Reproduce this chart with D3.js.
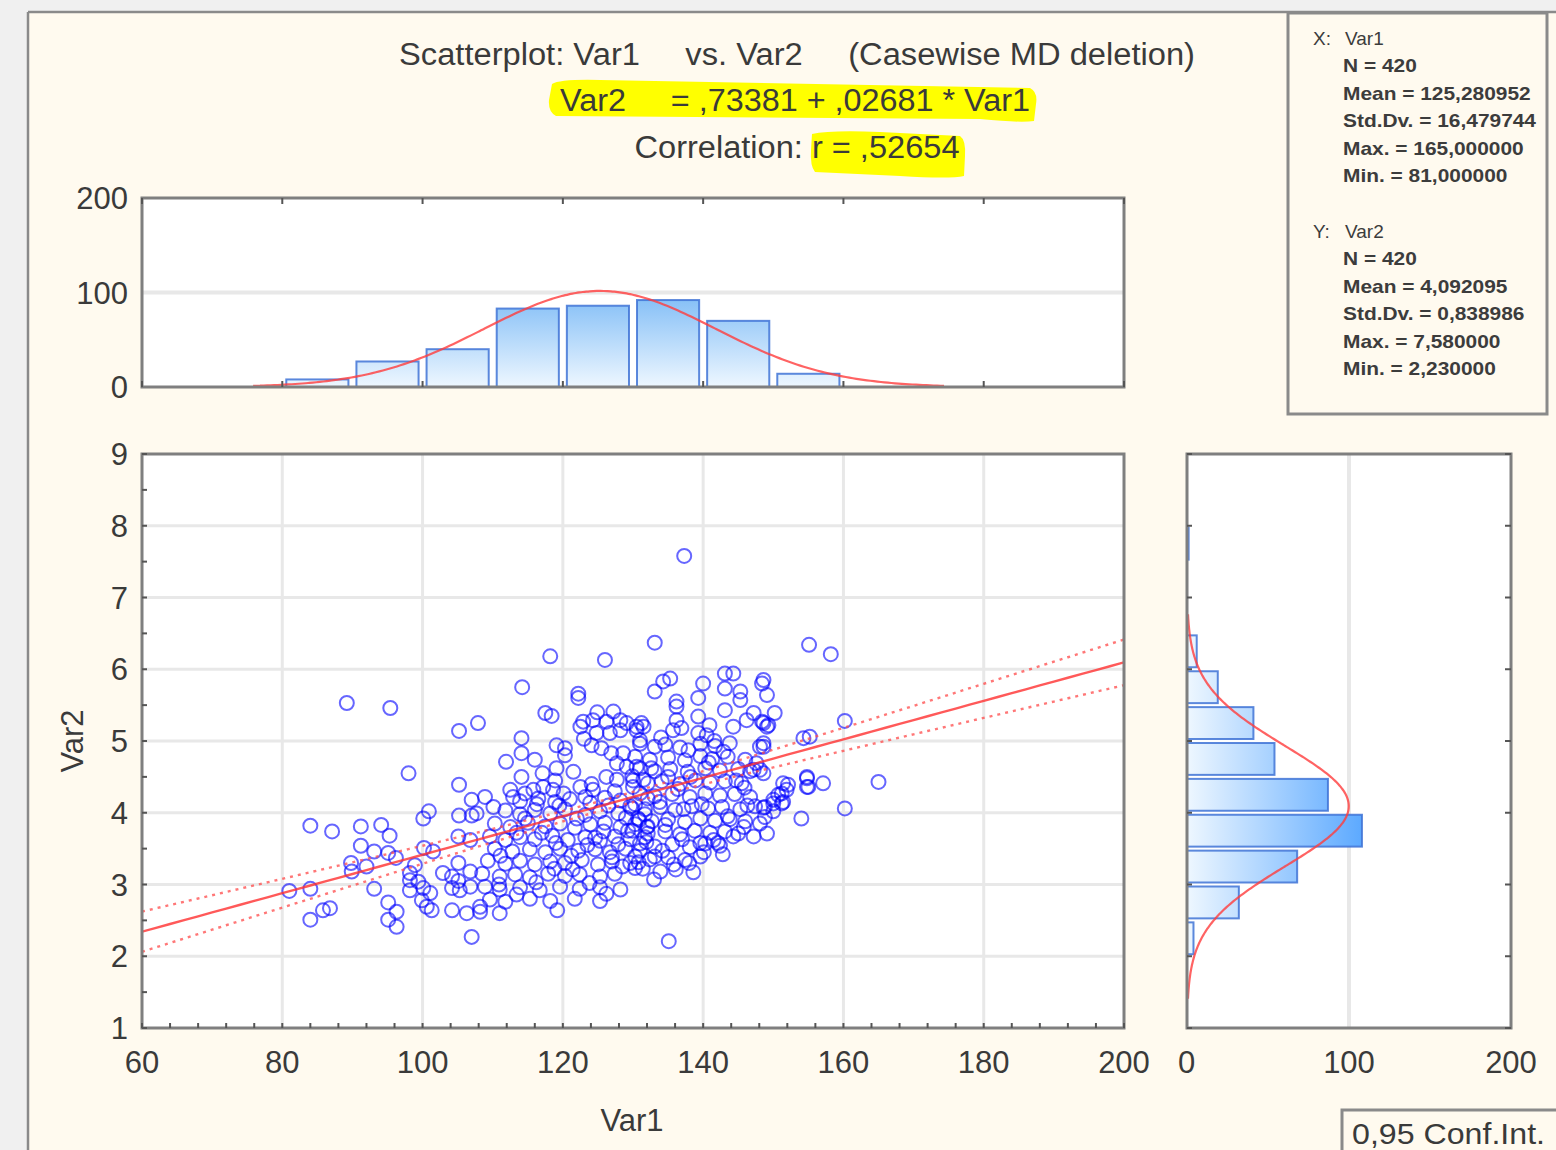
<!DOCTYPE html>
<html>
<head>
<meta charset="utf-8">
<script src="https://cdn.jsdelivr.net/npm/d3@7"></script>
<style>
  html, body { margin: 0; padding: 0; background: #f0f0f0; }
  svg { display: block; font-family: "Liberation Sans", Arial, sans-serif; }
</style>
</head>
<body>
<svg id="chart" width="1556" height="1150"></svg>
<script>
// ---- data ----
var titleLines = ["Scatterplot: Var1     vs. Var2     (Casewise MD deletion)",
                  "Var2     = ,73381 + ,02681 * Var1",
                  "Correlation: r = ,52654"];
var intercept = 0.73381, slope = 0.02681, r = 0.52654;

var statsX = ["N = 420", "Mean = 125,280952", "Std.Dv. = 16,479744", "Max. = 165,000000", "Min. = 81,000000"];
var statsY = ["N = 420", "Mean = 4,092095", "Std.Dv. = 0,838986", "Max. = 7,580000", "Min. = 2,230000"];
var nObs = 420, meanX = 125.280952, sdX = 16.479744, meanY = 4.092095, sdY = 0.838986;

var xTicks = [60, 80, 100, 120, 140, 160, 180, 200];
var yTicks = [1, 2, 3, 4, 5, 6, 7, 8, 9];
var histTicks = [0, 100, 200];

// Var1 histogram (bin start, width 10)
var var1Bins = [80, 90, 100, 110, 120, 130, 140, 150];
var var1Counts = [8, 27, 40, 83, 86, 92, 70, 14];
// Var2 histogram (bin start, width 0.5)
var var2Bins = [2.0, 2.5, 3.0, 3.5, 4.0, 4.5, 5.0, 5.5, 6.0, 7.5];
var var2Counts = [4, 32, 68, 108, 87, 54, 41, 19, 6, 1];

// scatter points [Var1, Var2]
var points = [
  [89.2,5.53],[95.4,5.46],[98.0,4.55],[84.0,3.82],[87.1,3.74],[91.2,3.81],[94.1,3.83],[95.3,3.68],
  [81.0,2.91],[84.0,2.94],[84.0,2.51],[86.8,2.67],[85.8,2.64],[107.0,2.27],[119.2,2.64],[135.1,2.21],
  [137.3,7.58],[133.1,6.37],[126.0,6.13],[118.2,6.18],[114.2,5.75],[105.2,5.14],[107.9,5.25],
  [155.1,6.34],[158.2,6.21],[160.2,5.28],[165.0,4.43],[160.2,4.06],[157.1,4.41],[154.3,5.04],
  [155.2,5.06],[154.0,3.92],[149.1,3.71],
  [105.2,4.39],[107.0,4.18],[105.2,3.96],[107.0,3.96],[100.9,4.02],[100.1,3.92],[91.2,3.54],[93.1,3.46],
  [95.1,3.44],[96.2,3.37],[89.8,3.30],[92.0,3.25],[89.9,3.18],[100.2,3.51],[101.5,3.46],[98.9,3.27],
  [98.2,3.16],[98.2,3.06],[99.4,3.04],[98.2,2.92],[100.1,2.95],[101.1,2.88],[99.9,2.78],[100.6,2.69],
  [101.3,2.64],[93.1,2.94],[95.1,2.75],[96.3,2.62],[95.1,2.51],[96.3,2.41],[102.9,3.16],[104.2,3.11],
  [104.2,2.95],[105.3,2.92],[104.2,2.64],[106.3,2.60],[105.1,3.67],[106.8,3.62],[105.1,3.30],[106.8,3.18],
  [105.1,3.05],[106.8,2.97],
  [122.2,5.66],[122.2,5.60],[117.5,5.39],[118.4,5.35],[122.9,5.27],[124.3,5.29],[126.2,5.27],[127.2,5.41],
  [128.2,5.29],[129.1,5.25],[130.5,5.20],[131.2,5.25],[122.5,5.20],[124.1,4.94],[124.8,5.11],[126.7,5.11],
  [128.2,5.15],[126.9,4.83],[128.6,4.83],[127.7,4.69],[129.1,4.64],[130.5,4.64],[114.1,5.04],[111.9,4.71],
  [114.1,4.83],[116.0,4.74],[114.1,4.50],[119.1,4.94],[120.3,4.90],[120.3,4.80],[119.1,4.62],[108.9,4.22],
  [110.1,4.08],[107.7,3.99],[108.2,2.69],[122.5,4.36],[124.3,4.32],[123.2,4.22],[126.2,4.50],[127.7,4.46],
  [130.0,4.36],[131.5,4.46],[118.6,4.32],[120.1,4.27],[117.2,4.36],[115.8,4.32],[112.5,4.32],[112.9,4.22],
  [114.6,4.27],[124.9,5.40],
  [113.9,4.16],[116.5,4.20],[118.9,4.15],[121.0,4.19],[123.9,4.14],[126.0,4.21],[128.2,4.17],[130.3,4.12],[132.1,4.20],
  [111.8,4.03],[113.9,3.98],[116.0,4.04],[118.2,3.99],[120.3,4.05],[123.2,3.97],[125.3,4.02],[127.9,3.99],[129.9,4.06],[131.7,3.98],
  [110.3,3.85],[112.5,3.80],[115.0,3.86],[117.5,3.81],[119.6,3.85],[121.7,3.79],[123.9,3.84],[126.0,3.86],[128.2,3.80],[130.3,3.84],[132.1,3.81],
  [109.6,3.67],[111.8,3.62],[113.9,3.66],[116.0,3.63],[118.5,3.68],[120.7,3.62],[123.2,3.66],[125.3,3.61],[127.4,3.67],[129.6,3.63],[131.7,3.66],
  [110.3,3.50],[112.8,3.46],[115.3,3.49],[117.5,3.45],[119.6,3.50],[122.2,3.47],[124.6,3.49],[126.7,3.45],[128.9,3.50],[131.0,3.47],
  [109.3,3.33],[111.8,3.29],[113.9,3.33],[116.0,3.28],[118.2,3.32],[120.3,3.30],[122.7,3.34],[125.0,3.28],[127.0,3.32],[129.6,3.30],
  [108.5,3.15],[111.0,3.11],[113.2,3.14],[115.3,3.10],[117.9,3.15],[120.3,3.12],[122.4,3.14],[125.3,3.11],[127.4,3.15],
  [108.9,2.97],[111.0,2.93],[113.9,2.96],[116.7,2.92],[119.6,2.97],[122.4,2.94],[125.3,2.96],[128.2,2.93],
  [109.6,2.79],[111.8,2.76],[115.3,2.80],[118.2,2.77],[121.7,2.80],[125.3,2.77],
  [108.2,2.62],[111.0,2.60],
  [134.3,5.83],[135.3,5.87],[133.1,5.69],[136.2,5.55],[136.2,5.48],[139.3,5.60],[140.0,5.80],[143.1,5.94],
  [144.3,5.94],[143.1,5.73],[145.3,5.69],[145.3,5.57],[148.4,5.80],[149.1,5.64],[150.2,5.39],[148.4,5.27],
  [149.1,5.20],[143.1,5.43],[144.3,5.20],[146.2,5.29],[147.2,5.39],[139.3,5.34],[140.9,5.22],[139.3,5.11],
  [140.5,5.08],[136.2,5.29],[136.9,5.18],[135.7,5.15],[131.5,5.20],[130.5,5.15],[131.0,5.01],[148.1,4.92],
  [148.6,4.97],[154.8,4.48],[154.8,4.36],[151.4,4.41],[151.9,4.32],[150.7,4.25],[151.2,4.13],[150.0,4.13],
  [148.8,4.08],[148.8,3.94],[148.1,3.85],[147.2,3.67],[148.1,4.60],[147.2,4.60],[147.6,4.69],[133.1,3.39],
  [139.6,3.58],[142.1,3.58],[144.3,3.67],[130.3,3.23],
  [131.0,4.96],[133.1,4.92],[134.6,4.95],[136.7,4.91],[139.6,4.96],[141.7,4.93],[143.8,4.97],
  [130.3,4.78],[132.4,4.74],[135.0,4.77],[137.4,4.73],[139.6,4.79],[141.3,4.75],[143.5,4.78],[146.0,4.74],
  [131.0,4.62],[133.1,4.58],[135.3,4.61],[137.8,4.57],[140.3,4.62],[142.4,4.59],[145.0,4.61],[146.7,4.58],
  [130.0,4.45],[132.1,4.41],[134.1,4.44],[136.7,4.40],[138.9,4.45],[141.0,4.42],[143.1,4.44],[145.5,4.41],
  [131.0,4.27],[133.1,4.23],[135.6,4.26],[138.1,4.22],[140.3,4.27],[142.4,4.24],[144.5,4.26],[146.7,4.22],
  [129.6,4.09],[131.7,4.05],[133.9,4.08],[136.0,4.04],[138.4,4.09],[140.7,4.06],[142.7,4.08],[145.3,4.05],[147.4,4.09],
  [130.7,3.92],[132.7,3.88],[135.0,3.91],[137.4,3.87],[139.6,3.92],[141.7,3.89],[143.8,3.91],[146.0,3.88],
  [129.9,3.75],[132.1,3.71],[134.6,3.74],[136.7,3.70],[138.8,3.75],[141.0,3.72],[143.1,3.74],[145.0,3.71],
  [131.0,3.57],[133.1,3.53],[135.6,3.56],[138.1,3.52],[140.3,3.57],[142.4,3.54],
  [130.3,3.39],[132.4,3.35],[135.0,3.38],[137.4,3.34],[139.6,3.39],
  [131.4,3.22],[133.9,3.18],[136.1,3.21],[138.6,3.17],
  [148.6,5.85],[148.6,5.25],[149.3,5.22],[148.6,4.92],[148.6,4.55],[154.8,4.50],[155.0,4.36],[152.1,4.39],
  [151.2,4.27],[150.0,4.18],[151.4,4.15],[148.6,4.07],[150.0,4.02],
  [114.6,3.92],[117.0,3.72],[119.0,3.58],[121.2,3.40],[123.5,3.55],[125.8,3.74],[127.9,3.56],[130.9,3.90],
  [133.8,4.15],[136.4,4.33],[138.2,4.50],[140.8,4.70],[142.9,4.85],[144.7,4.45],[146.3,4.10],[145.8,3.80],
  [142.8,3.42],[140.1,3.45],[137.0,3.63],[134.2,3.47],[131.9,3.59],[129.0,3.93],[126.5,4.10],[124.1,4.40],
  [121.5,4.57],[118.9,4.45],[116.3,4.12],[113.4,3.72],[111.1,3.40],[110.9,3.00],[113.4,2.86],[116.2,3.03],
  [118.8,3.22],[121.4,3.21],[123.8,3.02],[126.2,2.87],[128.5,3.25],[130.8,3.31],[133.0,3.07],[135.8,3.28],
  [138.0,3.30],[141.5,3.62],[143.5,3.95],[145.9,4.35],[139.8,4.12],[137.2,4.05],[134.6,3.83],[132.0,3.80],
  [129.3,3.75],[127.0,3.38],[124.6,3.65],[122.0,3.92],[119.5,4.10],[117.1,4.55],[135.0,4.50],[132.6,4.62],
  [129.9,4.51],[127.4,4.30],[125.5,4.90],[123.0,5.03],[141.6,5.00],[137.9,4.87],[134.0,5.05]
];

// ---- layout ----
var svg = d3.select("#chart");
var W = 1556, H = 1150;

var x = d3.scaleLinear().domain([60, 200]).range([142, 1124]);
var y = d3.scaleLinear().domain([1, 9]).range([1028, 454]);
var hy = d3.scaleLinear().domain([0, 200]).range([387, 198]);
var hx = d3.scaleLinear().domain([0, 200]).range([1187, 1511]);

var textCol = "#3a3a3a", frameCol = "#7f7f7f", gridCol = "#e8e8e8";

// background + window frame
svg.append("rect").attr("x", 28).attr("y", 12).attr("width", W - 28).attr("height", H - 12).attr("fill", "#fffaef");
svg.append("line").attr("x1", 28).attr("x2", 28).attr("y1", 12).attr("y2", H).attr("stroke", "#8a8a8a").attr("stroke-width", 2.5);
svg.append("line").attr("x1", 28).attr("x2", W).attr("y1", 12).attr("y2", 12).attr("stroke", "#8a8a8a").attr("stroke-width", 2.5);

var defs = svg.append("defs");
var g1 = defs.append("linearGradient").attr("id", "gTop").attr("gradientUnits", "userSpaceOnUse")
  .attr("x1", 0).attr("x2", 0).attr("y1", hy(0)).attr("y2", hy(100));
g1.append("stop").attr("offset", "0%").attr("stop-color", "#eef7ff");
g1.append("stop").attr("offset", "100%").attr("stop-color", "#7fbcf6");
var g2 = defs.append("linearGradient").attr("id", "gRight").attr("gradientUnits", "userSpaceOnUse")
  .attr("x1", hx(0)).attr("x2", hx(110)).attr("y1", 0).attr("y2", 0);
g2.append("stop").attr("offset", "0%").attr("stop-color", "#eef7ff");
g2.append("stop").attr("offset", "100%").attr("stop-color", "#5aa8ff");

// ---- titles with yellow marker ----
svg.append("path")
  .attr("d", "M552,84 Q560,79 600,80 L1030,88 Q1038,92 1036,104 L1034,121 Q1020,123 980,119 L556,116 Q548,112 549,100 Z")
  .attr("fill", "#ffff00");
svg.append("path")
  .attr("d", "M812,134 Q830,130 880,132 L960,136 Q966,140 965,156 L964,176 Q950,179 900,176 L815,172 Q810,166 811,150 Z")
  .attr("fill", "#ffff00");

var titleSpec = [
  {t: titleLines[0], x: 797, y: 65, len: 796},
  {t: titleLines[1], x: 795, y: 111, len: 470},
  {t: titleLines[2], x: 797, y: 158, len: 325}
];
svg.selectAll("text.title").data(titleSpec).enter().append("text")
  .attr("class", "title")
  .attr("x", function(d){ return d.x; })
  .attr("y", function(d){ return d.y; })
  .attr("text-anchor", "middle")
  .attr("font-size", 31)
  .attr("fill", textCol)
  .attr("textLength", function(d){ return d.len; })
  .attr("lengthAdjust", "spacingAndGlyphs")
  .style("white-space", "pre")
  .text(function(d){ return d.t; });

// ---- stats box ----
svg.append("rect").attr("x", 1288).attr("y", 13).attr("width", 259).attr("height", 401)
  .attr("fill", "#fffaef").attr("stroke", "#8a8a8a").attr("stroke-width", 3);
function statBlock(label, name, lines, y0) {
  var g = svg.append("g").attr("font-size", 19).attr("fill", "#3c3c3c");
  g.append("text").attr("x", 1313).attr("y", y0).text(label);
  g.append("text").attr("x", 1345).attr("y", y0).text(name);
  g.selectAll("text.s").data(lines).enter().append("text").attr("class", "s")
    .attr("x", 1343).attr("y", function(d, i){ return y0 + 27.4 * (i + 1); })
    .attr("font-weight", "bold")
    .text(function(d){ return d; })
    .each(function(){
      // widen slightly like the reference, staying inside the box
      var w = this.getComputedTextLength();
      this.setAttribute("textLength", Math.min(w * 1.1, 193));
      this.setAttribute("lengthAdjust", "spacingAndGlyphs");
    });
}
statBlock("X:", "Var1", statsX, 45);
statBlock("Y:", "Var2", statsY, 238);

// ---- frames ----
function frame(x0, y0, x1, y1) {
  svg.append("rect").attr("x", x0).attr("y", y0).attr("width", x1 - x0).attr("height", y1 - y0)
    .attr("fill", "#ffffff");
}
function border(x0, y0, x1, y1) {
  svg.append("rect").attr("x", x0).attr("y", y0).attr("width", x1 - x0).attr("height", y1 - y0)
    .attr("fill", "none").attr("stroke", frameCol).attr("stroke-width", 3);
}
frame(142, 198, 1124, 387);
frame(142, 454, 1124, 1028);
frame(1187, 454, 1511, 1028);

// grids
var sg = svg.append("g").attr("stroke", gridCol).attr("stroke-width", 3);
sg.selectAll("line.gx").data(xTicks.slice(1, -1)).enter().append("line")
  .attr("x1", x).attr("x2", x).attr("y1", 454).attr("y2", 1028);
sg.selectAll("line.gy").data(yTicks.slice(1, -1)).enter().append("line")
  .attr("x1", 142).attr("x2", 1124).attr("y1", y).attr("y2", y);
sg.append("line").attr("x1", 142).attr("x2", 1124).attr("y1", hy(100)).attr("y2", hy(100)).attr("stroke-width", 4);
sg.append("line").attr("x1", hx(100)).attr("x2", hx(100)).attr("y1", 454).attr("y2", 1028).attr("stroke-width", 4);

// ---- top histogram ----
svg.append("g").selectAll("rect").data(var1Bins).enter().append("rect")
  .attr("x", function(d){ return x(d) + 4; })
  .attr("width", function(d){ return x(d + 10) - x(d) - 8; })
  .attr("y", function(d, i){ return hy(var1Counts[i]); })
  .attr("height", function(d, i){ return hy(0) - hy(var1Counts[i]); })
  .attr("fill", "url(#gTop)").attr("stroke", "#3f73d6").attr("stroke-width", 2).attr("stroke-opacity", 0.85);

var normX = d3.range(meanX - 3 * sdX, meanX + 3 * sdX + 0.01, 0.5);
var dens = function(v, m, s){ return Math.exp(-0.5 * Math.pow((v - m) / s, 2)) / (s * Math.sqrt(2 * Math.PI)); };
svg.append("path")
  .attr("d", d3.line().curve(d3.curveBasis)
    .x(function(v){ return x(v); })
    .y(function(v){ return hy(nObs * 10 * dens(v, meanX, sdX)); })(normX))
  .attr("fill", "none").attr("stroke", "#ff3c3c").attr("stroke-opacity", 0.8).attr("stroke-width", 2.2);

// ---- right histogram ----
svg.append("g").selectAll("rect").data(var2Bins).enter().append("rect")
  .attr("x", hx(0))
  .attr("width", function(d, i){ return hx(var2Counts[i]) - hx(0); })
  .attr("y", function(d){ return y(d + 0.5) + 2; })
  .attr("height", function(d){ return y(d) - y(d + 0.5) - 4; })
  .attr("fill", "url(#gRight)").attr("stroke", "#3f73d6").attr("stroke-width", 2).attr("stroke-opacity", 0.85);

var normY = d3.range(meanY - 3.2 * sdY, meanY + 3.2 * sdY + 0.001, 0.02);
svg.append("path")
  .attr("d", d3.line().curve(d3.curveBasis)
    .x(function(v){ return hx(nObs * 0.5 * dens(v, meanY, sdY)); })
    .y(function(v){ return y(v); })(normY))
  .attr("fill", "none").attr("stroke", "#ff3c3c").attr("stroke-opacity", 0.8).attr("stroke-width", 2.2);

// ---- scatter ----
var clip = defs.append("clipPath").attr("id", "clipS");
clip.append("rect").attr("x", 142).attr("y", 454).attr("width", 982).attr("height", 574);

svg.append("g").selectAll("circle").data(points).enter().append("circle")
  .attr("cx", function(d){ return x(d[0]); })
  .attr("cy", function(d){ return y(d[1]); })
  .attr("r", 7)
  .attr("fill", "none")
  .attr("stroke", "#0000ff")
  .attr("stroke-opacity", 0.6)
  .attr("stroke-width", 2);

// regression line and 0.95 confidence band of the mean
var sRes = sdY * Math.sqrt(1 - r * r) * Math.sqrt((nObs - 1) / (nObs - 2));
var sxx = (nObs - 1) * sdX * sdX;
var xs = d3.range(60, 200.01, 2);
function fit(v){ return intercept + slope * v; }
function ci(v){ return 1.966 * sRes * Math.sqrt(1 / nObs + Math.pow(v - meanX, 2) / sxx); }
var lg = svg.append("g").attr("clip-path", "url(#clipS)").attr("fill", "none");
lg.append("path").attr("d", d3.line().x(x).y(function(v){ return y(fit(v) + ci(v)); })(xs))
  .attr("stroke", "#ff4a4a").attr("stroke-opacity", 0.75).attr("stroke-width", 2.4).attr("stroke-dasharray", "3,5");
lg.append("path").attr("d", d3.line().x(x).y(function(v){ return y(fit(v) - ci(v)); })(xs))
  .attr("stroke", "#ff4a4a").attr("stroke-opacity", 0.75).attr("stroke-width", 2.4).attr("stroke-dasharray", "3,5");
lg.append("path").attr("d", d3.line().x(x).y(function(v){ return y(fit(v)); })(xs))
  .attr("stroke", "#ff3030").attr("stroke-opacity", 0.8).attr("stroke-width", 2.4);

// borders on top
border(142, 198, 1124, 387);
border(142, 454, 1124, 1028);
border(1187, 454, 1511, 1028);

// ticks (inward)
var tk = svg.append("g").attr("stroke", "#555").attr("stroke-width", 2);
var minorX = d3.range(60, 200.01, 4);
tk.selectAll("line.mx").data(minorX).enter().append("line")
  .attr("x1", x).attr("x2", x).attr("y1", 1028).attr("y2", 1023);
tk.selectAll("line.tx").data(xTicks).enter().append("line")
  .attr("x1", x).attr("x2", x).attr("y1", 198).attr("y2", 204);
tk.selectAll("line.bx").data(xTicks).enter().append("line")
  .attr("x1", x).attr("x2", x).attr("y1", 387).attr("y2", 381);
tk.selectAll("line.my").data(d3.range(1, 9.01, 0.5)).enter().append("line")
  .attr("x1", 142).attr("x2", 147).attr("y1", y).attr("y2", y);
tk.selectAll("line.ry").data(yTicks).enter().append("line")
  .attr("x1", 1511).attr("x2", 1505).attr("y1", y).attr("y2", y);
tk.selectAll("line.ly").data(yTicks).enter().append("line")
  .attr("x1", 1187).attr("x2", 1192).attr("y1", y).attr("y2", y);

// ---- tick labels ----
var lab = svg.append("g").attr("font-size", 31).attr("fill", textCol);
lab.selectAll("text.xl").data(xTicks).enter().append("text")
  .attr("x", x).attr("y", 1073).attr("text-anchor", "middle").text(function(d){ return d; });
lab.selectAll("text.yl").data(yTicks).enter().append("text")
  .attr("x", 128).attr("y", function(d){ return y(d) + 11; }).attr("text-anchor", "end").text(function(d){ return d; });
lab.selectAll("text.hyl").data(histTicks).enter().append("text")
  .attr("x", 128).attr("y", function(d){ return hy(d) + 11; }).attr("text-anchor", "end").text(function(d){ return d; });
lab.selectAll("text.hxl").data(histTicks).enter().append("text")
  .attr("x", hx).attr("y", 1073)
  .attr("text-anchor", function(d, i){ return i === 0 ? "start" : "middle"; })
  .attr("dx", function(d, i){ return i === 0 ? -9 : 0; })
  .text(function(d){ return d; });

// axis titles
lab.append("text").attr("x", 632).attr("y", 1131).attr("text-anchor", "middle").text("Var1");
lab.append("text").attr("transform", "translate(83,741) rotate(-90)").attr("text-anchor", "middle").text("Var2");

// legend
svg.append("rect").attr("x", 1342).attr("y", 1110).attr("width", 230).attr("height", 60)
  .attr("fill", "#fffaef").attr("stroke", "#8a8a8a").attr("stroke-width", 3);
svg.append("text").attr("x", 1352).attr("y", 1144).attr("font-size", 30).attr("fill", textCol)
  .attr("textLength", 193).attr("lengthAdjust", "spacingAndGlyphs").text("0,95 Conf.Int.");
</script>
</body>
</html>
